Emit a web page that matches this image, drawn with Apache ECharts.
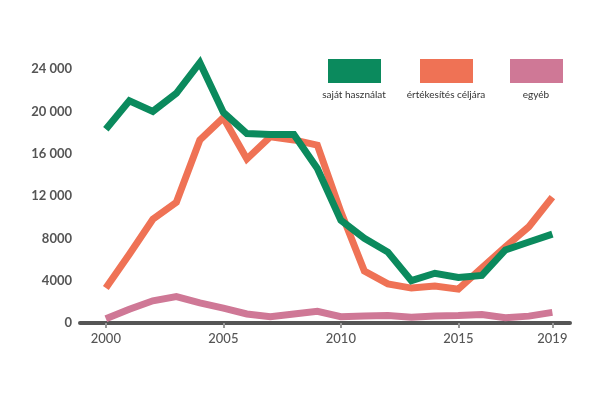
<!DOCTYPE html>
<html><head><meta charset="utf-8">
<script src="https://cdn.jsdelivr.net/npm/echarts@6/dist/echarts.min.js"></script>
<style>html,body{margin:0;padding:0;background:#fff}#c{width:600px;height:400px}</style>
</head><body><div id="c"></div>
<script>
var years = [2000,2001,2002,2003,2004,2005,2006,2007,2008,2009,2010,2011,2012,2013,2014,2015,2016,2017,2018,2019];
var sajat = [18300,21000,20000,21700,24600,19900,17900,17800,17800,14600,9700,8000,6700,4000,4700,4300,4500,6900,7650,8400];
var ertekesites = [3300,6500,9800,11400,17300,19400,15500,17600,17300,16800,10500,4900,3700,3300,3500,3200,5200,7200,9100,11900];
var egyeb = [400,1300,2100,2500,1900,1400,850,600,850,1100,600,650,700,550,650,700,800,500,650,1000];
var xTicks = [2000,2005,2010,2015,2019];
var yTicks = [0,4000,8000,12000,16000,20000,24000];
var names = ['saját használat','értékesítés céljára','egyéb'];
var colors = ['#0b8a5d','#ef7255','#cf7896'];

function pairs(arr){ return years.map(function(y,i){ return [y, arr[i]]; }); }
function fmtY(v){ return v >= 10000 ? String(v).replace(/(\d)(?=(\d{3})$)/, '$1 ') : String(v); }

var chart = echarts.init(document.getElementById('c'));
var series = [sajat, ertekesites, egyeb].map(function(arr, i){
  return { name: names[i], type: 'line', data: pairs(arr), symbol: 'none', clip: false,
    lineStyle: { width: 7, color: colors[i], join: 'miter' }, itemStyle: { color: colors[i] } };
});
series = [series[2], series[1], series[0]];

var legendX = [354, 446, 536];
var graphics = [];
names.forEach(function(n, i){
  graphics.push({ type: 'rect', shape: { x: legendX[i]-26, y: 59, width: 53, height: 24 }, style: { fill: colors[i] } });
  graphics.push({ type: 'text', x: legendX[i], y: 95, style: { text: n, fill: '#333', font: '10px Lato', align: 'center', verticalAlign: 'middle' } });
});

chart.setOption({
  animation: false,
  grid: { left: 80, right: 30, top: 69, bottom: 77 },
  xAxis: { type: 'value', min: 1998.9, max: 2019.75,
    axisLine: { show: true, lineStyle: { color: '#555', width: 4 } },
    axisTick: { show: true, customValues: xTicks, length: 5, inside: false, lineStyle: { color: '#999', width: 2 } },
    axisLabel: { customValues: xTicks, margin: 9, color: '#555', fontSize: 13, fontFamily: 'Lato', fontWeight: 500,
      formatter: function(v){ return String(v); } },
    splitLine: { show: false } },
  yAxis: { type: 'value', min: 0, max: 24000, interval: 4000,
    axisLine: { show: false }, axisTick: { show: false }, splitLine: { show: false },
    axisLabel: { color: '#555', fontSize: 13, fontFamily: 'Lato', fontWeight: 'bold', margin: 8, formatter: fmtY } },
  graphic: graphics,
  series: series
});
</script></body></html>
